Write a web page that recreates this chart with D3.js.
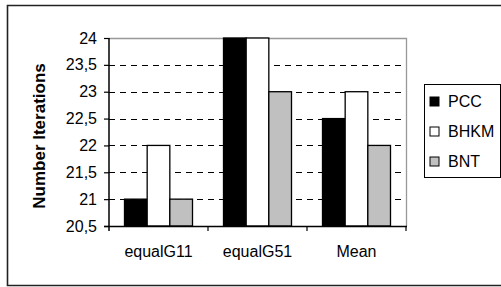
<!DOCTYPE html>
<html>
<head>
<meta charset="utf-8">
<script src="https://cdn.jsdelivr.net/npm/d3@7"></script>
<style>
  body { margin: 0; background: #fff; }
  svg { display: block; font-family: "Liberation Sans", Arial, sans-serif; }
</style>
</head>
<body>
<script>
const categories = ["equalG11", "equalG51", "Mean"];
const seriesNames = ["PCC", "BHKM", "BNT"];
const pccValues = [21, 24, 22.5];
const bhkmValues = [22, 24, 23];
const bntValues = [21, 23, 22];
const yTicks = [20.5, 21, 21.5, 22, 22.5, 23, 23.5, 24];
const seriesColors = ["#000000", "#ffffff", "#c0c0c0"];

const width = 501;
const height = 287;
const plot = { left: 109, right: 406, top: 38, bottom: 226 };

const svg = d3
  .select("body")
  .append("svg")
  .attr("width", width)
  .attr("height", height);

// outer frame (right edge runs off the picture)
svg
  .append("path")
  .attr("d", `M${width + 5},5.5 H7.5 V285.5 H${width + 5}`)
  .attr("fill", "none")
  .attr("stroke", "#222")
  .attr("stroke-width", 1.6);

const x0 = d3.scaleBand().domain(categories).range([plot.left, plot.right]);
const x1 = d3
  .scaleBand()
  .domain(seriesNames)
  .range([15.5, x0.bandwidth() - 15.5]);
const y = d3.scaleLinear().domain([20.5, 24]).range([plot.bottom, plot.top]);

const comma = d3.formatLocale({
  decimal: ",",
  thousands: ".",
  grouping: [3],
  currency: ["", ""],
}).format("~g");

// grid lines
svg
  .append("g")
  .selectAll("line")
  .data(yTicks.filter((t) => t > 20.5 && t < 24))
  .enter()
  .append("line")
  .attr("x1", plot.left)
  .attr("x2", plot.right)
  .attr("y1", (d) => Math.round(y(d)) + 0.5)
  .attr("y2", (d) => Math.round(y(d)) + 0.5)
  .attr("stroke", "#000")
  .attr("stroke-dasharray", "6,5");

// plot border top/right
svg
  .append("path")
  .attr("d", `M${plot.left},${plot.top + 0.5} H${plot.right + 0.5} V${plot.bottom}`)
  .attr("fill", "none")
  .attr("stroke", "#999")
  .attr("stroke-width", 1.3);

// bars
const rows = categories.map((c, i) => ({
  cat: c,
  vals: [pccValues[i], bhkmValues[i], bntValues[i]],
}));

svg
  .append("g")
  .selectAll("g")
  .data(rows)
  .enter()
  .append("g")
  .attr("transform", (d) => `translate(${x0(d.cat)},0)`)
  .selectAll("rect")
  .data((d) => d.vals.map((v, j) => ({ name: seriesNames[j], v: v, j: j })))
  .enter()
  .append("rect")
  .attr("x", (d) => x1(d.name))
  .attr("y", (d) => y(d.v))
  .attr("width", x1.bandwidth())
  .attr("height", (d) => y(20.5) - y(d.v))
  .attr("fill", (d) => seriesColors[d.j])
  .attr("stroke", "#000")
  .attr("stroke-width", 1.3);

// y axis
const yAxis = d3
  .axisLeft(y)
  .tickValues(yTicks)
  .tickSize(5)
  .tickPadding(7)
  .tickFormat(comma);

const yg = svg
  .append("g")
  .attr("transform", `translate(${plot.left},0)`)
  .call(yAxis);
yg.select(".domain").remove();
yg.selectAll("line").attr("stroke", "#000").attr("stroke-width", 1.2);
yg.selectAll("text")
  .attr("font-size", "16px")
  .attr("font-family", "Liberation Sans, Arial, sans-serif")
  .attr("fill", "#000");

svg
  .append("line")
  .attr("x1", plot.left)
  .attr("x2", plot.left)
  .attr("y1", plot.top)
  .attr("y2", plot.bottom + 5)
  .attr("stroke", "#000")
  .attr("stroke-width", 1.5);

// x axis
const xg = svg
  .append("g")
  .attr("transform", `translate(0,${plot.bottom})`)
  .call(d3.axisBottom(x0).tickSize(0).tickPadding(20));
xg.select(".domain").remove();
xg.selectAll("text")
  .attr("font-size", "16px")
  .attr("font-family", "Liberation Sans, Arial, sans-serif")
  .attr("fill", "#000");

svg
  .append("line")
  .attr("x1", plot.left - 5)
  .attr("x2", plot.right + 1)
  .attr("y1", plot.bottom + 0.5)
  .attr("y2", plot.bottom + 0.5)
  .attr("stroke", "#000")
  .attr("stroke-width", 1.3);

svg
  .append("g")
  .selectAll("line")
  .data(categories)
  .enter()
  .append("line")
  .attr("x1", (d) => x0(d) + x0.step())
  .attr("x2", (d) => x0(d) + x0.step())
  .attr("y1", plot.bottom)
  .attr("y2", plot.bottom + 5)
  .attr("stroke", "#000")
  .attr("stroke-width", 1.2);

// y title
svg
  .append("text")
  .attr("transform", `translate(45,${(plot.top + plot.bottom) / 2 + 4}) rotate(-90)`)
  .attr("text-anchor", "middle")
  .attr("font-size", "17px")
  .attr("font-weight", "bold")
  .text("Number Iterations");

// legend
const legend = svg.append("g").attr("transform", "translate(424,84)");
legend
  .append("rect")
  .attr("x", 0.5)
  .attr("y", 0.5)
  .attr("width", 76)
  .attr("height", 93)
  .attr("fill", "#fff")
  .attr("stroke", "#000")
  .attr("stroke-width", 1);

const item = legend
  .selectAll("g.item")
  .data(seriesNames)
  .enter()
  .append("g")
  .attr("class", "item")
  .attr("transform", (d, i) => `translate(6,${13 + i * 30})`);

item
  .append("rect")
  .attr("width", 9)
  .attr("height", 9)
  .attr("fill", (d, i) => seriesColors[i])
  .attr("stroke", "#000")
  .attr("stroke-width", 1);

item
  .append("text")
  .attr("x", 18)
  .attr("y", 9.5)
  .attr("font-size", "16px")
  .text((d) => d);
</script>
</body>
</html>
